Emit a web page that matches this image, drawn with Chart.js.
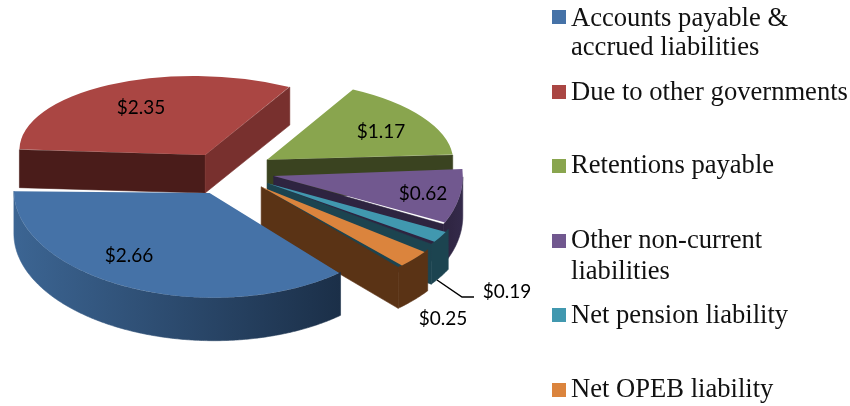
<!DOCTYPE html>
<html><head><meta charset="utf-8">
<style>html,body{margin:0;padding:0;background:#fff}canvas{display:block}</style>
<script src="https://cdn.jsdelivr.net/npm/chart.js@4"></script>
</head><body>
<canvas id="c" width="850" height="406"></canvas>
<script>
const categories = [["Accounts payable &","accrued liabilities"],["Due to other governments"],["Retentions payable"],["Other non-current","liabilities"],["Net pension liability"],["Net OPEB liability"]];
const values = [2.66,2.35,1.17,0.62,0.19,0.25];

const topColors = ["#4572A7","#AA4643","#89A54E","#71588F","#4198AF","#DB843D"];
const startFace = ["#1B2F48","#4A1C1A","#3A4320","#2E2440","#1C4450","#5A3315"];
const endFace   = ["#1B2F48","#78302E","#3A4320","#2E2440","#1C4450","#5A3315"];
const rimLeft   = ["#3C6593","#78302E","#3A4320","#2E2440","#1C4450","#5A3315"];
const rimRight  = ["#1B2F48","#78302E","#3A4320","#342A4A","#1C4450","#5A3315"];
const tilt      = [0.535,0.425,0.43,0.58,0.52,0.53];
const shear     = [0.012,0.027,0.01,0,0,0];
const sizeScale = [1.0,0.984,0.975,0.915,0.905,0.935];
const depth     = [43,38,38,40,40,41];
const explode   = [180,176,188,186,184,178];
const paintOrder= [1,2,3,4,5,0];
const labelPos  = [[129,256],[141,108],[381,132],[423,194],[507,292],[443,319]];
const legendSwatchY = [10,85,159,234,308,383];
const legendBaselines = [[26,55],[100],[173],[248,279],[323],[397]];
const leader = [[437,280],[462,297],[474,297]];

function frame(chart,arc,i){
  const off=explode[i]/4, mid=(arc.startAngle+arc.endAngle)/2;
  const fix=1-Math.sin(Math.min(Math.PI,arc.circumference));
  const r=arc.outerRadius+off*fix, k=tilt[i], s=sizeScale[i], c=shear[i];
  const ax=arc.x+Math.cos(mid)*off, ay=arc.y+Math.sin(mid)*off;
  const Ax=ax, Ay=arc.y+k*(ay-arc.y);
  return {ax,ay,Ax,Ay,k,s,c,r,pt:t=>{const dx=s*r*Math.cos(t);return [Ax+dx,Ay+k*s*r*Math.sin(t)+c*dx];}};
}
function poly(ctx,pts,fill){
  ctx.beginPath();pts.forEach((p,n)=>n?ctx.lineTo(p[0],p[1]):ctx.moveTo(p[0],p[1]));ctx.closePath();
  ctx.fillStyle=fill;ctx.strokeStyle=fill;ctx.lineWidth=0.6;ctx.fill();ctx.stroke();
}
function walls(ctx,arc,i,f){
  const D=depth[i],a=arc.startAngle,b=arc.endAngle,A=[f.Ax,f.Ay];
  const face=(t,c)=>{const p=f.pt(t);poly(ctx,[A,p,[p[0],p[1]+D],[A[0],A[1]+D]],c);};
  if(-Math.cos(a)>0)face(a,startFace[i]);
  if(Math.cos(b)>0)face(b,endFace[i]);
  const ts=[];const n=Math.ceil((b-a)/0.01);
  for(let j=0;j<=n;j++){const t=a+(b-a)*j/n;if(Math.sin(t)>=0)ts.push(t);}
  if(ts.length>1){
    const top=ts.map(f.pt),bot=top.map(p=>[p[0],p[1]+D]).reverse();
    const xs=top.map(p=>p[0]);
    const g=ctx.createLinearGradient(Math.min(...xs),0,Math.max(...xs),0);
    g.addColorStop(0,rimLeft[i]);g.addColorStop(1,rimRight[i]);
    poly(ctx,top.concat(bot),g);
  }
}
const pie3d={id:'pie3d',
  beforeDatasetDraw(chart,args){
    const ctx=chart.ctx,arcs=args.meta.data;
    paintOrder.forEach(i=>{
      const arc=arcs[i],f=frame(chart,arc,i);
      walls(ctx,arc,i,f);
      ctx.save();
      // maps (x,y) to (Ax+s(x-ax), Ay+ks(y-ay)+cs(x-ax))
      ctx.transform(f.s,f.c*f.s,0,f.k*f.s,f.Ax-f.s*f.ax,f.Ay-f.k*f.s*f.ay-f.c*f.s*f.ax);
      arc.draw(ctx);
      ctx.restore();
    });
    return false;
  },
  afterDraw(chart){
    const ctx=chart.ctx;
    ctx.save();
    ctx.fillStyle="#000";ctx.font='19px Lato';ctx.textAlign='center';ctx.textBaseline='middle';
    values.forEach((v,i)=>ctx.fillText('$'+v.toFixed(2),labelPos[i][0],labelPos[i][1]));
    ctx.strokeStyle="#000";ctx.lineWidth=1.5;ctx.beginPath();
    leader.forEach((p,n)=>n?ctx.lineTo(p[0],p[1]):ctx.moveTo(p[0],p[1]));ctx.stroke();
    ctx.textAlign='left';ctx.textBaseline='alphabetic';ctx.font='26.6px "Liberation Serif"';
    categories.forEach((lines,i)=>{
      ctx.fillStyle=topColors[i];ctx.fillRect(552,legendSwatchY[i],14,14);
      ctx.fillStyle="#111";
      lines.forEach((t,l)=>ctx.fillText(t,571,legendBaselines[i][l]));
    });
    ctx.restore();
  }
};
new Chart(document.getElementById('c'),{
  type:'pie',
  data:{labels:categories.map(c=>c.join(' ')),datasets:[{data:values,backgroundColor:topColors,borderWidth:0,offset:explode}]},
  options:{responsive:false,animation:false,rotation:138,radius:184,
    layout:{padding:{left:0,top:0,right:394,bottom:64}},
    plugins:{legend:{display:false},tooltip:{enabled:false},title:{display:false}}},
  plugins:[pie3d]
});
</script>
</body></html>
